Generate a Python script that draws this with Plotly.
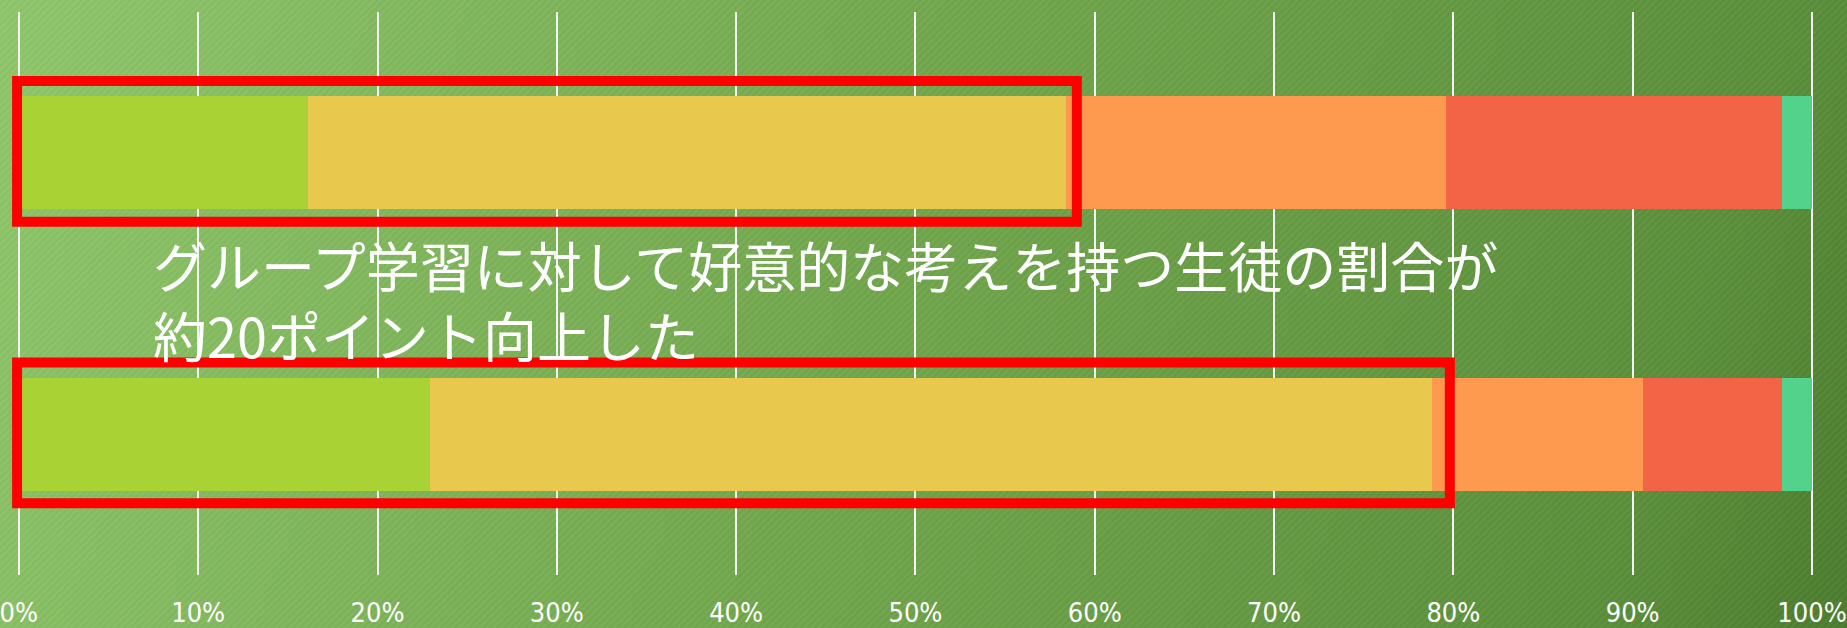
import base64
import plotly.graph_objects as go

# ---------------- data ----------------
categories = ["導入前", "導入後"]          # top bar, bottom bar
series_names = ["そう思う", "ややそう思う", "あまりそう思わない", "そう思わない", "無回答"]
vals_strong = [16.1, 22.9]
vals_some = [42.3, 55.9]
vals_not_much = [21.2, 11.8]
vals_not = [18.7, 7.7]
vals_na = [1.7, 1.7]
tick_vals = [0, 10, 20, 30, 40, 50, 60, 70, 80, 90, 100]
tick_text = ["0%", "10%", "20%", "30%", "40%", "50%", "60%", "70%", "80%", "90%", "100%"]
message_line1 = "グループ学習に対して好意的な考えを持つ生徒の割合が"
message_line2 = "約20ポイント向上した"

series_values = [vals_strong, vals_some, vals_not_much, vals_not, vals_na]
colors = ["#A9D335", "#E8C94E", "#FD9A50", "#F36345", "#52D28A"]
box_pad = [0.6, 1.0]   # extra room to the right of each highlight box

W, H = 1847, 628
ML, MR, MT, MB = 0, 24, 12, 45
X_RANGE = [-0.83, 100.5]

fig = go.Figure()
for name, vals, col in zip(series_names, series_values, colors):
    fig.add_trace(go.Bar(
        y=categories, x=vals, name=name, orientation="h",
        marker=dict(color=col, line=dict(width=0)),
        width=0.4, hoverinfo="x+name",
    ))

# highlight boxes around the favourable share (first two series)
for i in range(len(categories)):
    fav = vals_strong[i] + vals_some[i]
    fig.add_shape(
        type="rect", xref="x", yref="y",
        x0=-0.1, x1=fav + box_pad[i], y0=i - 0.255, y1=i + 0.245,
        line=dict(color="#FF0000", width=10), fillcolor="rgba(0,0,0,0)",
        layer="above",
    )

# background: green gradient with fine diagonal texture
BW, BH = W + 40, H + 40
svg = f'''<svg xmlns="http://www.w3.org/2000/svg" width="{BW}" height="{BH}" viewBox="0 0 {BW} {BH}" preserveAspectRatio="none">
<defs>
<linearGradient id="g" gradientUnits="userSpaceOnUse" x1="20" y1="20" x2="{W + 20}" y2="{H + 20}">
<stop offset="0" stop-color="#8EC66B"/>
<stop offset="0.45" stop-color="#72A74D"/>
<stop offset="0.88" stop-color="#5A8E3A"/>
<stop offset="1" stop-color="#4B7C2E"/>
</linearGradient>
<pattern id="p" width="5" height="5" patternUnits="userSpaceOnUse" patternTransform="rotate(45)">
<rect x="0" y="0" width="1.6" height="5" fill="#ffffff" fill-opacity="0.05"/>
<rect x="2.5" y="0" width="1" height="5" fill="#000000" fill-opacity="0.03"/>
</pattern>
</defs>
<rect width="{BW}" height="{BH}" fill="url(#g)"/>
<rect width="{BW}" height="{BH}" fill="url(#p)"/>
</svg>'''
src = "data:image/svg+xml;base64," + base64.b64encode(svg.encode("utf-8")).decode("ascii")
pw = W - ML - MR
ph = H - MT - MB
fig.add_layout_image(dict(
    source=src, xref="paper", yref="paper",
    x=-(ML + 20) / pw, y=1 + (MT + 20) / ph, sizex=BW / pw, sizey=BH / ph,
    xanchor="left", yanchor="top", sizing="stretch", layer="below",
))

text_font = dict(family="Noto Sans CJK JP", size=54, color="#FFFFFF")
x_text = (147 - ML) / pw
fig.add_annotation(text=message_line1 + "<br>" + message_line2,
                   xref="paper", yref="paper", align="left",
                   x=x_text, y=(H - MB - 304) / ph, xanchor="left", yanchor="middle",
                   showarrow=False, font=text_font)

fig.update_layout(
    width=W, height=H, barmode="stack", showlegend=False,
    margin=dict(l=ML, r=MR, t=MT, b=MB, pad=0),
    paper_bgcolor="#5E9340", plot_bgcolor="rgba(0,0,0,0)",
    xaxis=dict(range=X_RANGE, tickvals=tick_vals, ticktext=tick_text,
               showgrid=True, gridcolor="#F2F2F2", gridwidth=1.5,
               zeroline=False, showline=False, ticks="",
               ticklabeloverflow="allow",
               tickfont=dict(family="DejaVu Sans Condensed", size=27, color="#FFFFFF"),
               ticklabelstandoff=19, fixedrange=True),
    yaxis=dict(visible=False, autorange=False, range=[1.5, -0.5], fixedrange=True),
    bargap=0.6,
)

fig.write_html("out.html")
